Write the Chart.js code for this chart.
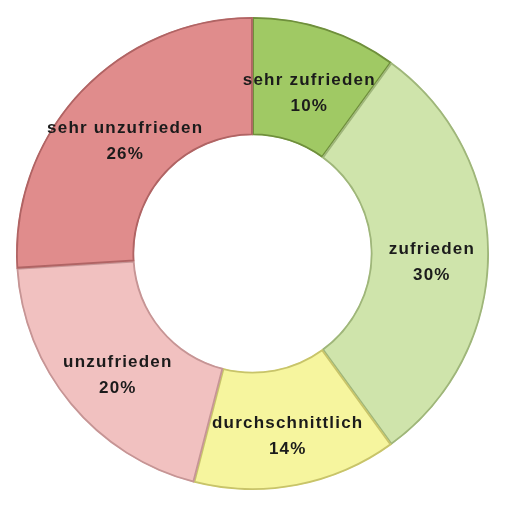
<!DOCTYPE html>
<html>
<head>
<meta charset="utf-8">
<script src="https://cdn.jsdelivr.net/npm/chart.js@4/dist/chart.umd.min.js"></script>
<style>
html,body{margin:0;padding:0;background:#fff;}
#wrap{width:505px;height:508px;position:relative;}
</style>
</head>
<body>
<div id="wrap"><canvas id="c"></canvas></div>
<script>
const categories = ["sehr zufrieden", "zufrieden", "durchschnittlich", "unzufrieden", "sehr unzufrieden"];
const values = [10, 30, 14, 20, 26];
const fillColors = ["#a0c964", "#cfe4ab", "#f6f59e", "#f1c1c0", "#e08c8c"];
const edgeColors = ["#6f8f3c", "#9fb67a", "#c8c46a", "#c69595", "#b06464"];

const labelPlugin = {
  id: 'sliceLabels',
  afterDatasetsDraw(chart) {
    const ctx = chart.ctx;
    const meta = chart.getDatasetMeta(0);
    const total = values.reduce((a, b) => a + b, 0);
    ctx.save();
    ctx.font = "bold 17px 'Liberation Sans', Arial, sans-serif";
    if ('letterSpacing' in ctx) ctx.letterSpacing = "1.2px";
    ctx.fillStyle = "#1b1b1b";
    ctx.textAlign = "center";
    ctx.textBaseline = "middle";
    meta.data.forEach((arc, i) => {
      const p = arc.tooltipPosition();
      const pct = Math.round(values[i] / total * 100) + "%";
      ctx.fillText(categories[i], p.x + 2, p.y - 4);
      ctx.fillText(pct, p.x + 2, p.y + 22);
    });
    ctx.restore();
  }
};

new Chart(document.getElementById('c'), {
  type: 'doughnut',
  data: {
    labels: categories,
    datasets: [{
      data: values,
      backgroundColor: fillColors,
      borderColor: edgeColors,
      borderWidth: 1.5,
      borderAlign: 'inner'
    }]
  },
  options: {
    responsive: true,
    maintainAspectRatio: false,
    animation: false,
    cutout: '50%',
    layout: { padding: { top: 17, bottom: 18, left: 16, right: 16 } },
    plugins: { legend: { display: false }, tooltip: { enabled: false } }
  },
  plugins: [labelPlugin]
});
</script>
</body>
</html>
